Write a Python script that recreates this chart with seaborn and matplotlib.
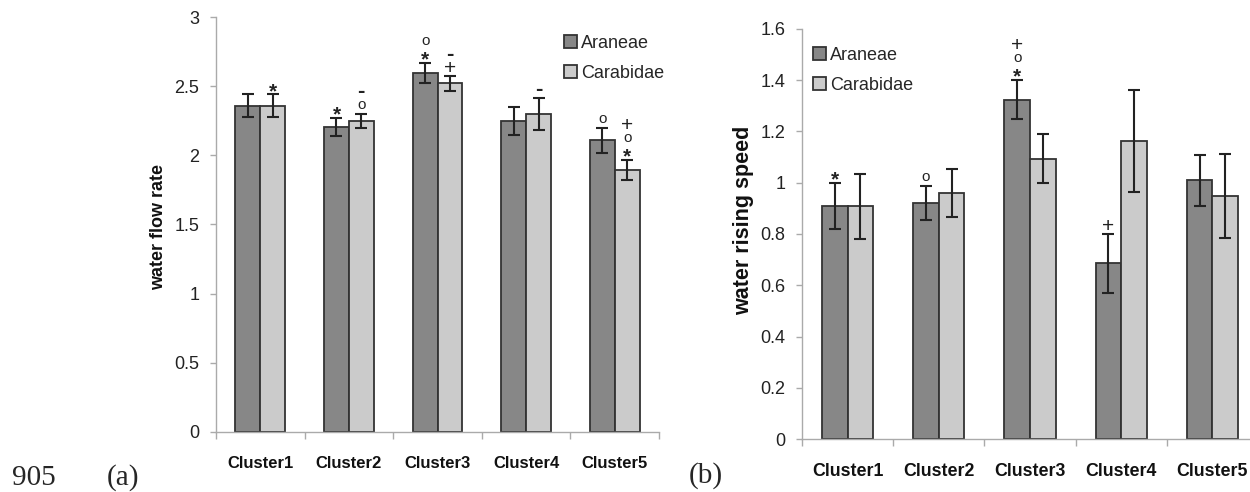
import matplotlib
matplotlib.use("Agg")
import matplotlib.pyplot as plt
import seaborn as sns
import pandas as pd
import numpy as np

clusters = ["Cluster1", "Cluster2", "Cluster3", "Cluster4", "Cluster5"]
groups = ["Araneae", "Carabidae"]

# (a) water flow rate
flow_araneae = [2.36, 2.205, 2.595, 2.25, 2.11]
flow_carabidae = [2.36, 2.25, 2.52, 2.30, 1.895]
flow_err_araneae = [0.08, 0.065, 0.07, 0.103, 0.09]
flow_err_carabidae = [0.08, 0.05, 0.052, 0.115, 0.07]
flow_marks_araneae = [[], ["*"], ["*", "o"], [], ["o"]]
flow_marks_carabidae = [["*"], ["o", "-"], ["+", "-"], ["-"], ["*", "o", "+"]]

# (b) water rising speed
speed_araneae = [0.908, 0.921, 1.324, 0.685, 1.01]
speed_carabidae = [0.908, 0.960, 1.094, 1.162, 0.949]
speed_err_araneae = [0.09, 0.067, 0.076, 0.115, 0.10]
speed_err_carabidae = [0.126, 0.093, 0.095, 0.20, 0.163]
speed_marks_araneae = [["*"], ["o"], ["*", "o", "+"], ["+"], []]
speed_marks_carabidae = [[], [], [], [], []]

sns.set_theme(style="white")
plt.rcParams["font.family"] = ["Liberation Sans", "DejaVu Sans"]

fig = plt.figure(figsize=(12.5, 4.92), dpi=100)
ax1 = fig.add_axes([0.1728, 0.1220, 0.3544, 0.8434])
ax2 = fig.add_axes([0.6416, 0.1077, 0.3648, 0.8334])

palette = {"Araneae": "#878787", "Carabidae": "#cbcbcb"}
# fontsize, weight, fraction of em where the glyph's visual centre sits above baseline
sym_style = {"*": (15, "bold", 0.56),
             "o": (11, "normal", 0.27),
             "+": (15, "normal", 0.35),
             "-": (16, "bold", 0.27)}


def panel(ax, va, vc, ea, ec, ma, mc, ylim, yticks, yticklabels, ylabel,
          ylabel_size, ylabel_xy, xtick_size, legend_anchor, legend_spacing):
    df = pd.DataFrame({
        "cluster": clusters * 2,
        "group": [groups[0]] * len(clusters) + [groups[1]] * len(clusters),
        "value": list(va) + list(vc),
    })
    sns.barplot(data=df, x="cluster", y="value", hue="group", order=clusters,
                hue_order=groups, palette=palette, width=0.56, gap=0,
                errorbar=None, edgecolor="#333333", linewidth=1.3, ax=ax,
                legend=False, saturation=1)
    for cont, vals, errs, marks in zip(ax.containers, [va, vc], [ea, ec], [ma, mc]):
        xs = [p.get_x() + p.get_width() / 2 for p in cont.patches]
        ax.errorbar(xs, vals, yerr=errs, fmt="none", ecolor="#222222",
                    elinewidth=1.5, capsize=4, capthick=1.5, zorder=5)
        for x, v, e, mk in zip(xs, vals, errs, marks):
            for i, s in enumerate(mk):
                fs, fw, frac = sym_style[s]
                centre = 6.6 + 9.7 * i
                ax.annotate(s, (x, v + e), xytext=(0, centre - frac * fs),
                            textcoords="offset points", ha="center",
                            va="baseline", color="#222222", fontsize=fs,
                            fontweight=fw)
    ax.set_ylim(*ylim)
    ax.set_xlim(-0.5, len(clusters) - 0.5)
    ax.set_yticks(yticks)
    ax.set_yticklabels(yticklabels, fontsize=13, color="#222222")
    ax.set_xticks(range(len(clusters)))
    ax.set_xticklabels(clusters, fontsize=xtick_size, fontweight="bold", color="#111111")
    ax.set_xticks(np.arange(-0.5, len(clusters)), minor=True)
    ax.tick_params(axis="x", which="major", length=0, pad=17)
    ax.tick_params(axis="x", which="minor", length=5, color="#aaaaaa", width=1,
                   direction="out", bottom=True)
    ax.tick_params(axis="y", length=4, color="#aaaaaa", width=1, direction="out",
                   left=True, pad=8)
    ax.set_xlabel("")
    ax.set_ylabel(ylabel, fontsize=ylabel_size, fontweight="bold", color="#111111",
                  va="center")
    ax.yaxis.set_label_coords(*ylabel_xy)
    for side in ["top", "right"]:
        ax.spines[side].set_visible(False)
    for side in ["left", "bottom"]:
        ax.spines[side].set_color("#aaaaaa")
        ax.spines[side].set_linewidth(1.0)
    ax.legend(ax.containers, groups, loc="upper left", bbox_to_anchor=legend_anchor,
              frameon=False, fontsize=13, handlelength=0.75, handleheight=0.75,
              handletextpad=0.2, labelspacing=legend_spacing, borderpad=0,
              borderaxespad=0)


panel(ax1, flow_araneae, flow_carabidae, flow_err_araneae, flow_err_carabidae,
      flow_marks_araneae, flow_marks_carabidae, (0, 3),
      [0, 0.5, 1, 1.5, 2, 2.5, 3], ["0", "0.5", "1", "1.5", "2", "2.5", "3"],
      "water flow rate", 13, (-0.129, 0.493), 12, (0.785, 0.957), 0.72)
panel(ax2, speed_araneae, speed_carabidae, speed_err_araneae, speed_err_carabidae,
      speed_marks_araneae, speed_marks_carabidae, (0, 1.6),
      [0, 0.2, 0.4, 0.6, 0.8, 1.0, 1.2, 1.4, 1.6],
      ["0", "0.2", "0.4", "0.6", "0.8", "1", "1.2", "1.4", "1.6"],
      "water rising speed", 15.5, (-0.129, 0.532), 12.8, (0.024, 0.957), 0.72)

serif = ["Liberation Serif", "DejaVu Serif"]
fig.text(12 / 1250, 1 - 478 / 492, "905", fontsize=21, family=serif, va="center", ha="left")
fig.text(107 / 1250, 1 - 478 / 492, "(a)", fontsize=21, family=serif, va="center", ha="left")
fig.text(689 / 1250, 1 - 476 / 492, "(b)", fontsize=21, family=serif, va="center", ha="left")

fig.savefig("out.png", dpi=100)
